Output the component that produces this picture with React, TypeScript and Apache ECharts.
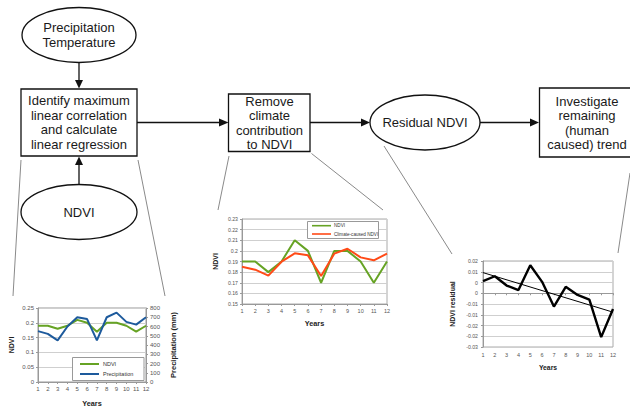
import React, { useEffect, useRef } from "react";
import * as echarts from "echarts";

const years = ["1", "2", "3", "4", "5", "6", "7", "8", "9", "10", "11", "12"];
const ndvi = [0.19, 0.19, 0.18, 0.19, 0.21, 0.2, 0.17, 0.2, 0.2, 0.19, 0.17, 0.19];
const precipitation = [550, 520, 450, 600, 700, 680, 450, 700, 750, 650, 620, 700];
const climateNdvi = [0.185, 0.1823, 0.1767, 0.1898, 0.1977, 0.1958, 0.1764, 0.1974, 0.202, 0.1939, 0.1911, 0.1974];
const residual = [0.0056, 0.0079, 0.0036, 0.0015, 0.013, 0.0053, -0.0062, 0.003, -0.0008, -0.003, -0.0204, -0.0073];
const trend = [0.0096, null, null, null, null, null, null, null, null, null, null, -0.0088];
const residualTickLabels = ["-0.03", "-0.02", "-0.02", "-0.01", "-0.01", "0", "0", "0.01", "0.02"];

const FONT = "Liberation Sans, Arial, sans-serif";
const GREEN = "#66a324";
const BLUE = "#1d5a9c";
const RED = "#ff4a17";

const tickLabel = (size: number) => ({ fontSize: size, color: "#555", fontFamily: FONT });
const nameStyle = (size: number) => ({ fontSize: size, fontWeight: "bold" as const, color: "#222", fontFamily: FONT });
const axLine = { show: true, lineStyle: { color: "#999", width: 1 } };
const axTick = { show: true, length: 2, lineStyle: { color: "#999" } };
const split = { show: true, lineStyle: { color: "#cfcfcf", width: 1 } };

function App() {
  const ref = useRef<HTMLDivElement>(null);
  useEffect(() => {
    const chart = echarts.init(ref.current!, null, { renderer: "svg" });
    const lineC = { stroke: "#111", lineWidth: 1.3 };
    const grayC = { stroke: "#8a8a8a", lineWidth: 1 };
    const txt = (x: number, y: number, text: string) => ({
      type: "text",
      x,
      y,
      z: 10,
      style: { text, fontSize: 13, fontFamily: FONT, fill: "#1a1a1a", align: "center", verticalAlign: "middle", lineHeight: 14.5 },
    });
    const tri = (pts: number[][]) => ({ type: "polygon", z: 10, shape: { points: pts }, style: { fill: "#111" } });
    const seg = (x1: number, y1: number, x2: number, y2: number, st: any) => ({
      type: "line",
      z: 10,
      shape: { x1, y1, x2, y2 },
      style: st,
    });
    const graphic: any[] = [
      // zoom connector lines
      seg(21, 160, 13, 296, grayC),
      seg(138, 160, 165, 296, grayC),
      seg(229, 156, 218, 210, grayC),
      seg(311.5, 153.5, 383, 210, grayC),
      seg(384, 146, 452, 254, grayC),
      seg(630, 173, 618, 253, grayC),
      // shapes
      { type: "ellipse", z: 10, shape: { cx: 79, cy: 35, rx: 57, ry: 27.5 }, style: { fill: "#fff", ...lineC } },
      txt(79, 35, "Precipitation\nTemperature"),
      seg(79, 62.5, 79, 81, lineC),
      tri([[75, 80], [83, 80], [79, 88.5]]),
      { type: "rect", z: 10, shape: { x: 21, y: 89, width: 116, height: 67 }, style: { fill: "#fff", ...lineC } },
      txt(79, 122.5, "Identify maximum\nlinear correlation\nand calculate\nlinear regression"),
      { type: "ellipse", z: 10, shape: { cx: 79, cy: 212, rx: 58, ry: 27.5 }, style: { fill: "#fff", ...lineC } },
      txt(79, 212, "NDVI"),
      seg(79, 184.5, 79, 164, lineC),
      tri([[75, 165], [83, 165], [79, 156.5]]),
      seg(137, 122.5, 220, 122.5, lineC),
      tri([[219, 118.5], [219, 126.5], [228.5, 122.5]]),
      { type: "rect", z: 10, shape: { x: 228.5, y: 94, width: 81.5, height: 57.5 }, style: { fill: "#fff", ...lineC } },
      txt(269.5, 123, "Remove\nclimate\ncontribution\nto NDVI"),
      seg(310, 122.5, 362, 122.5, lineC),
      tri([[361, 118.5], [361, 126.5], [370, 122.5]]),
      { type: "ellipse", z: 10, shape: { cx: 425, cy: 122.5, rx: 55, ry: 27.5 }, style: { fill: "#fff", ...lineC } },
      txt(425, 122.5, "Residual NDVI"),
      seg(480, 122.5, 531, 122.5, lineC),
      tri([[530, 118.5], [530, 126.5], [539, 122.5]]),
      { type: "rect", z: 10, shape: { x: 539.5, y: 88, width: 100, height: 69 }, style: { fill: "#fff", ...lineC } },
      txt(587, 123, "Investigate\nremaining\n(human\ncaused) trend"),
      // legend frames
      { type: "rect", z: 3, shape: { x: 72.5, y: 357.5, width: 71.5, height: 23 }, style: { fill: "#fff", stroke: "#999", lineWidth: 1 } },
      { type: "rect", z: 3, shape: { x: 307.5, y: 221.5, width: 71, height: 17 }, style: { fill: "#fff", stroke: "#999", lineWidth: 1 } },
    ];

    chart.setOption({
      animation: false,
      backgroundColor: "#fff",
      textStyle: { fontFamily: FONT },
      graphic,
      grid: [
        { left: 38, top: 308, width: 108, height: 76, show: true, borderColor: "#999", borderWidth: 1 },
        { left: 242, top: 219, width: 145, height: 85, show: true, borderColor: "#aaa", borderWidth: 1 },
        { left: 483, top: 261, width: 130, height: 86, show: true, borderColor: "#aaa", borderWidth: 1 },
      ],
      legend: [
        {
          data: ["NDVI", "Precipitation"],
          orient: "vertical",
          left: 80,
          top: 360.5,
          padding: 0,
          itemGap: 3,
          itemWidth: 19,
          itemHeight: 2,
          icon: "rect",
          textStyle: { fontSize: 5.5, lineHeight: 7, color: "#333", fontFamily: FONT, padding: [0, 0, 0, -1] },
        },
        {
          data: ["NDVI", "Climate-caused NDVI"],
          orient: "vertical",
          left: 312,
          top: 222.7,
          padding: 0,
          itemGap: 2.3,
          itemWidth: 19,
          itemHeight: 1.6,
          icon: "rect",
          textStyle: { fontSize: 4.6, lineHeight: 6, color: "#333", fontFamily: FONT, padding: [0, 0, 0, -2] },
        },
      ],
      xAxis: [
        {
          gridIndex: 0, type: "category", data: years, boundaryGap: false,
          name: "Years", nameLocation: "middle", nameGap: 18, nameTextStyle: nameStyle(7.3),
          axisLine: axLine, axisTick: axTick, axisLabel: { ...tickLabel(6), margin: 4, interval: 0 },
          splitLine: { show: false },
        },
        {
          gridIndex: 1, type: "category", data: years, boundaryGap: false,
          name: "Years", nameLocation: "middle", nameGap: 15.5, nameTextStyle: nameStyle(7.3),
          axisLine: axLine, axisTick: axTick, axisLabel: { ...tickLabel(5.5), margin: 4, interval: 0 },
          splitLine: { show: false },
        },
        {
          gridIndex: 2, type: "category", data: years, boundaryGap: false,
          name: "Years", nameLocation: "middle", nameGap: 17, nameTextStyle: nameStyle(6.8),
          axisLine: axLine, axisTick: axTick, axisLabel: { ...tickLabel(5.5), margin: 5, interval: 0 },
          splitLine: { show: false },
        },
      ],
      yAxis: [
        {
          gridIndex: 0, type: "value", min: 0, max: 0.25, interval: 0.05,
          name: "NDVI", nameLocation: "middle", nameGap: 23, nameTextStyle: nameStyle(7),
          axisLine: axLine, axisTick: axTick, axisLabel: { ...tickLabel(6), margin: 4 },
          splitLine: split,
        },
        {
          gridIndex: 0, type: "value", position: "right", min: 0, max: 800, interval: 100,
          name: "Precipitation (mm)", nameLocation: "middle", nameGap: 23, nameTextStyle: nameStyle(7.5),
          axisLine: axLine, axisTick: axTick, axisLabel: { ...tickLabel(6), margin: 4 },
          splitLine: { show: false },
        },
        {
          gridIndex: 1, type: "value", min: 0.15, max: 0.23, interval: 0.01,
          name: "NDVI", nameLocation: "middle", nameGap: 23, nameTextStyle: nameStyle(7),
          axisLine: axLine, axisTick: axTick, axisLabel: { ...tickLabel(5.2), margin: 4 },
          splitLine: split,
        },
        {
          gridIndex: 2, type: "value", min: -0.025, max: 0.015, interval: 0.005,
          name: "NDVI residual", nameLocation: "middle", nameGap: 27, nameTextStyle: nameStyle(7),
          axisLine: axLine, axisTick: axTick,
          axisLabel: {
            ...tickLabel(5.2), margin: 5,
            formatter: (v: number) => residualTickLabels[Math.round((v + 0.025) / 0.005)] ?? "",
          },
          splitLine: split,
        },
      ],
      series: [
        { name: "NDVI", type: "line", xAxisIndex: 0, yAxisIndex: 0, data: ndvi, symbol: "none", color: GREEN, lineStyle: { width: 2, color: GREEN } },
        { name: "Precipitation", type: "line", xAxisIndex: 0, yAxisIndex: 1, data: precipitation, symbol: "none", color: BLUE, lineStyle: { width: 2, color: BLUE } },
        { name: "NDVI", type: "line", xAxisIndex: 1, yAxisIndex: 2, data: ndvi, symbol: "none", color: GREEN, lineStyle: { width: 2, color: GREEN } },
        { name: "Climate-caused NDVI", type: "line", xAxisIndex: 1, yAxisIndex: 2, data: climateNdvi, symbol: "none", color: RED, lineStyle: { width: 2, color: RED } },
        { name: "Residual", type: "line", xAxisIndex: 2, yAxisIndex: 3, data: residual, symbol: "none", color: "#000", lineStyle: { width: 2.4, color: "#000" } },
        { name: "Trend", type: "line", xAxisIndex: 2, yAxisIndex: 3, data: trend, connectNulls: true, symbol: "none", color: "#000", lineStyle: { width: 1, color: "#000" } },
      ],
    });
    return () => chart.dispose();
  }, []);
  return <div ref={ref} style={{ position: "absolute", left: 0, top: 0, width: 630, height: 408 }} />;
}

export default App;
